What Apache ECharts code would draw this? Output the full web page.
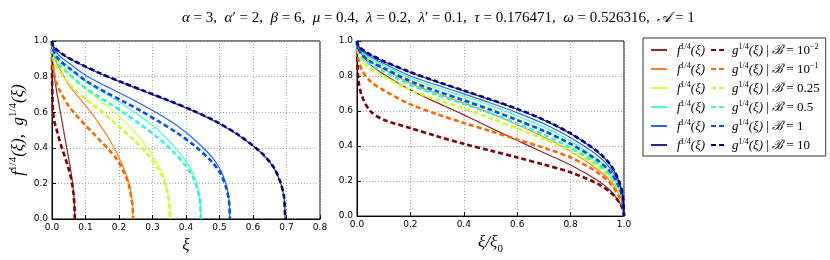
<!DOCTYPE html>
<html>
<head>
<meta charset="utf-8">
<script src="https://cdn.jsdelivr.net/npm/echarts@6/dist/echarts.min.js"></script>
<style>html,body{margin:0;padding:0;background:#fff}#c{width:830px;height:260px}</style>
</head>
<body>
<div id="c"></div>
<script>
// normalized coordinate t = xi / xi0
const T = [0, 0.005, 0.02, 0.05, 0.1, 0.2, 0.3, 0.4, 0.5, 0.6, 0.7, 0.8, 0.9, 0.95, 0.98, 0.995, 1];
// xi0 for each B
const XI0 = [0.068, 0.242, 0.352, 0.444, 0.531, 0.696];
const B_LABELS = [['10', '−2'], ['10', '−1'], ['0.25', ''], ['0.5', ''], ['1', ''], ['10', '']];
const F_B001 = [1, 0.96, 0.92, 0.865, 0.81, 0.72, 0.648, 0.578, 0.505, 0.432, 0.362, 0.292, 0.205, 0.145, 0.085, 0.042, 0];
const G_B001 = [1, 0.78, 0.68, 0.6, 0.55, 0.503, 0.456, 0.413, 0.374, 0.335, 0.294, 0.25, 0.185, 0.135, 0.083, 0.042, 0];
const F_B01 = [1, 0.962, 0.925, 0.882, 0.84, 0.758, 0.7, 0.645, 0.588, 0.522, 0.452, 0.37, 0.268, 0.2, 0.13, 0.072, 0];
const G_B01 = [1, 0.9, 0.83, 0.77, 0.718, 0.638, 0.582, 0.532, 0.485, 0.438, 0.39, 0.335, 0.25, 0.185, 0.115, 0.062, 0];
const F_B025 = [1, 0.964, 0.932, 0.894, 0.855, 0.776, 0.72, 0.669, 0.616, 0.556, 0.49, 0.408, 0.305, 0.232, 0.155, 0.09, 0];
const G_B025 = [1, 0.935, 0.885, 0.84, 0.797, 0.72, 0.665, 0.614, 0.559, 0.5, 0.44, 0.372, 0.283, 0.218, 0.143, 0.083, 0];
const F_B05 = [1, 0.967, 0.937, 0.9, 0.862, 0.788, 0.733, 0.684, 0.632, 0.572, 0.508, 0.428, 0.325, 0.25, 0.17, 0.1, 0];
const G_B05 = [1, 0.948, 0.905, 0.865, 0.826, 0.75, 0.693, 0.642, 0.588, 0.528, 0.464, 0.39, 0.298, 0.232, 0.158, 0.092, 0];
const F_B1 = [1, 0.97, 0.943, 0.91, 0.872, 0.8, 0.748, 0.698, 0.646, 0.59, 0.527, 0.447, 0.347, 0.27, 0.188, 0.112, 0];
const G_B1 = [1, 0.958, 0.92, 0.883, 0.845, 0.77, 0.713, 0.661, 0.607, 0.548, 0.486, 0.412, 0.32, 0.25, 0.172, 0.1, 0];
const F_B10 = [1, 0.973, 0.95, 0.92, 0.883, 0.82, 0.766, 0.715, 0.664, 0.61, 0.548, 0.47, 0.368, 0.29, 0.203, 0.123, 0];
const G_B10 = [1, 0.975, 0.952, 0.922, 0.885, 0.822, 0.768, 0.717, 0.666, 0.612, 0.55, 0.472, 0.37, 0.292, 0.205, 0.125, 0];
const X1_TICKS = [0, 0.1, 0.2, 0.3, 0.4, 0.5, 0.6, 0.7, 0.8];
const X2_TICKS = [0, 0.2, 0.4, 0.6, 0.8, 1.0];
const Y_TICKS = [0, 0.2, 0.4, 0.6, 0.8, 1.0];
const TITLE_PARAMS = [['α', '', '3'], ['α', '′', '2'], ['β', '', '6'], ['μ', '', '0.4'], ['λ', '', '0.2'], ['λ', '′', '0.1'], ['τ', '', '0.176471'], ['ω', '', '0.526316'], ['𝒜', '', '1']];

const F_ALL = [F_B001, F_B01, F_B025, F_B05, F_B1, F_B10];
const G_ALL = [G_B001, G_B01, G_B025, G_B05, G_B1, G_B10];
const COLORS = ['#800000', '#ff6800', '#cdff29', '#29ffce', '#004cff', '#000080'];

const SERIF = 'Liberation Serif';
function makeRich(size, supSize, lh) {
  return {
    it: {fontFamily: SERIF, fontStyle: 'italic', fontWeight: 'normal', fontSize: size, color: '#000', lineHeight: lh, verticalAlign: 'bottom'},
    n: {fontFamily: SERIF, fontWeight: 'normal', fontSize: size, color: '#000', lineHeight: lh, verticalAlign: 'bottom'},
    sup: {fontFamily: SERIF, fontWeight: 'normal', fontSize: supSize, color: '#000', lineHeight: lh, verticalAlign: 'top'},
    sub: {fontFamily: SERIF, fontWeight: 'normal', fontSize: supSize, color: '#000', lineHeight: lh, verticalAlign: 'bottom', padding: [0, 0, -4, 0]},
    pad: {width: 5, lineHeight: lh}
  };
}
const richLegend = makeRich(13, 8, 14);
const richAxis = makeRich(17, 11, 19);

const series = [];
const legendNames = [];
const nameText = {};
for (let i = 0; i < 6; i++) {
  const pair = [['f', F_ALL[i]], ['g', G_ALL[i]]];
  for (const [kind, vals] of pair) {
    const name = kind + '_' + i;
    legendNames.push(name);
    if (kind === 'f') {
      nameText[name] = '{pad|}{it|f}{sup|1/4}{it|(ξ)}';
    } else {
      const b = B_LABELS[i];
      nameText[name] = '{it|g}{sup|1/4}{it|(ξ)}{n| | }{it|ℬ}{n| = ' + b[0] + '}' + (b[1] ? '{sup|' + b[1] + '}' : '');
    }
    const ls = kind === 'f'
      ? {color: COLORS[i], width: 1.2, type: 'solid', opacity: 0.85}
      : {color: COLORS[i], width: 2.6, type: [5, 3]};
    for (let g = 0; g < 2; g++) {
      series.push({
        name: name, type: 'line', xAxisIndex: g, yAxisIndex: g,
        symbol: 'none', smooth: 0.3,
        lineStyle: ls, itemStyle: {color: COLORS[i]},
        data: T.map((t, k) => [g === 0 ? t * XI0[i] : t, vals[k]])
      });
    }
  }
}

let titleText = '';
TITLE_PARAMS.forEach((p, k) => {
  titleText += '{g|' + p[0] + '}' + (p[1] ? '{n|' + p[1] + '}' : '') + '{n| = ' + p[2] + (k < TITLE_PARAMS.length - 1 ? ',  ' : '') + '}';
});

const tickLabel = {fontFamily: 'DejaVu Sans', fontSize: 9, color: '#000', formatter: v => v.toFixed(1)};
function xAxis(gi, max, interval, nameStr) {
  return {
    type: 'value', gridIndex: gi, min: 0, max: max, interval: interval,
    axisLine: {show: true, lineStyle: {color: '#000', width: 1}},
    axisTick: {show: true, inside: true, length: 4, lineStyle: {color: '#000'}},
    axisLabel: Object.assign({margin: 4}, tickLabel),
    splitLine: {show: true, lineStyle: {color: '#aaa', type: [1, 2], width: 1}},
    name: nameStr, nameLocation: 'middle', nameGap: 12,
    nameTextStyle: {rich: richAxis}
  };
}
function yAxis(gi, nameStr) {
  return {
    type: 'value', gridIndex: gi, min: 0, max: 1, interval: 0.2,
    axisLine: {show: true, lineStyle: {color: '#000', width: 1}},
    axisTick: {show: true, inside: true, length: 4, lineStyle: {color: '#000'}},
    axisLabel: Object.assign({margin: 4}, tickLabel),
    splitLine: {show: true, lineStyle: {color: '#aaa', type: [1, 2], width: 1}},
    name: nameStr, nameLocation: 'middle', nameGap: 25, nameRotate: 90,
    nameTextStyle: {rich: richAxis}
  };
}

const chart = echarts.init(document.getElementById('c'), null, {renderer: 'canvas'});
chart.setOption({
  animation: false,
  backgroundColor: '#fff',
  title: {
    text: titleText, left: 177, top: 6,
    textStyle: {
      fontWeight: 'normal',
      rich: {
        g: {fontFamily: SERIF, fontStyle: 'italic', fontWeight: 'normal', fontSize: 15, color: '#000'},
        n: {fontFamily: SERIF, fontWeight: 'normal', fontSize: 15, color: '#000'}
      }
    }
  },
  grid: [
    {left: 52, top: 41, width: 268, height: 178, show: true, borderColor: '#000', borderWidth: 1, backgroundColor: 'transparent'},
    {left: 357, top: 41, width: 267, height: 178, show: true, borderColor: '#000', borderWidth: 1, backgroundColor: 'transparent'}
  ],
  xAxis: [
    xAxis(0, 0.8, 0.1, '{it|ξ}'),
    xAxis(1, 1.0, 0.2, '{it|ξ/ξ}{sub|0}')
  ],
  yAxis: [
    yAxis(0, '{it|f}{sup|1/4}{it|(ξ),  g}{sup|1/4}{it|(ξ)}'),
    yAxis(1, '')
  ],
  legend: {
    data: legendNames,
    left: 643, top: 38, width: 172,
    orient: 'horizontal',
    padding: [5, 6, 4, 7],
    itemGap: 5, itemWidth: 16, itemHeight: 10,
    borderColor: '#333', borderWidth: 1, backgroundColor: '#fff',
    itemStyle: {opacity: 0, borderWidth: 0},
    formatter: name => nameText[name],
    textStyle: {rich: richLegend}
  },
  series: series
});
</script>
</body>
</html>
